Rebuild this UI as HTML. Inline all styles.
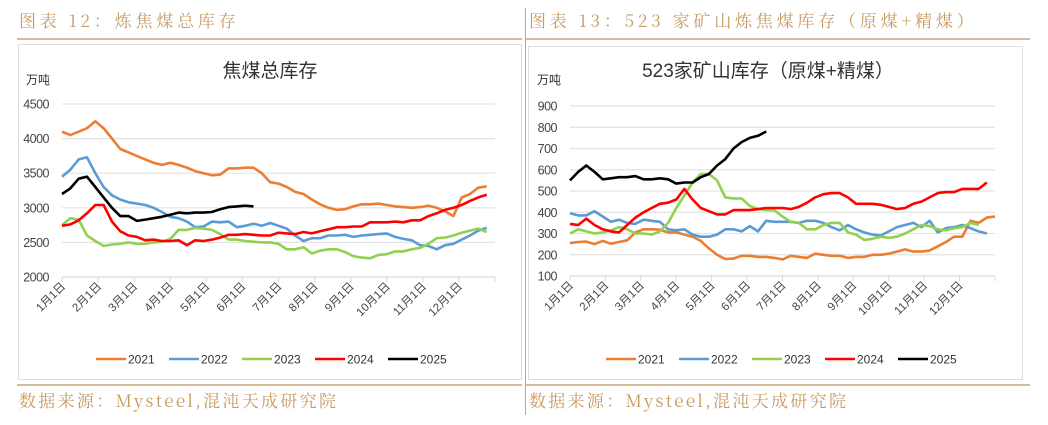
<!DOCTYPE html>
<html><head><meta charset="utf-8"><style>
body{margin:0;background:#fff;width:1048px;height:420px;overflow:hidden}
svg{font-family:"Liberation Sans","Noto Sans CJK SC",sans-serif}
.cap{font-family:"Noto Serif CJK SC","Liberation Serif",serif;fill:#c79a63;font-size:17px;letter-spacing:3.8px}
.src{letter-spacing:2.3px}
</style></head><body>
<svg id="s" width="1048" height="420">
<text class="cap" x="19" y="27">图表 12：炼焦煤总库存</text>
<text class="cap" x="529" y="27">图表 13：523 家矿山炼焦煤库存（原煤+精煤）</text>
<line x1="17" y1="39" x2="522" y2="39" stroke="#c9a77c" stroke-width="1.5"/>
<line x1="526" y1="39" x2="1030" y2="39" stroke="#c9a77c" stroke-width="1.5"/>
<line x1="525.5" y1="8" x2="525.5" y2="415" stroke="#c9a77c" stroke-width="1"/>
<rect x="18.5" y="44.5" width="503" height="335" fill="none" stroke="#ddd"/>
<rect x="528.5" y="46.5" width="494" height="333" fill="none" stroke="#ddd"/>
<line x1="17" y1="385" x2="522" y2="385" stroke="#c9a77c" stroke-width="1.5"/>
<line x1="526" y1="385" x2="1030" y2="385" stroke="#c9a77c" stroke-width="1.5"/>
<text class="cap src" x="19" y="407">数据来源：Mysteel,混沌天成研究院</text>
<text class="cap src" x="529" y="407">数据来源：Mysteel,混沌天成研究院</text>
</svg>
<script>
const years=["2021","2022","2023","2024","2025"];
const colors=["#ed7d31","#5b9bd5","#92d050","#ff0000","#000000"];
const months=["1月1日","2月1日","3月1日","4月1日","5月1日","6月1日","7月1日","8月1日","9月1日","10月1日","11月1日","12月1日"];
const leftTicks=[2000,2500,3000,3500,4000,4500];
const rightTicks=[100,200,300,400,500,600,700,800,900];
const L2021=[4100,4050,4100,4150,4250,4150,4000,3850,3800,3750,3700,3650,3620,3650,3620,3580,3530,3500,3470,3480,3570,3570,3580,3580,3500,3370,3350,3300,3230,3200,3120,3050,3000,2970,2980,3020,3050,3050,3060,3040,3020,3010,3000,3010,3030,3000,2950,2880,3150,3200,3290,3310];
const L2022=[3450,3550,3700,3730,3500,3300,3180,3120,3080,3060,3040,3000,2940,2870,2850,2800,2720,2730,2800,2790,2800,2720,2740,2770,2740,2780,2740,2700,2600,2520,2560,2560,2600,2600,2610,2580,2600,2610,2620,2630,2580,2550,2530,2460,2450,2400,2460,2480,2540,2600,2670,2710];
const L2023=[2750,2850,2830,2600,2520,2450,2470,2480,2500,2480,2480,2500,2510,2550,2680,2680,2710,2700,2680,2620,2540,2540,2520,2510,2500,2500,2480,2400,2400,2430,2340,2380,2400,2400,2360,2300,2280,2270,2320,2330,2370,2370,2400,2420,2480,2560,2570,2600,2640,2670,2700,2650];
const L2024=[2740,2760,2820,2920,3040,3040,2800,2660,2600,2580,2530,2540,2520,2520,2530,2460,2530,2520,2540,2570,2610,2610,2620,2610,2600,2600,2640,2630,2620,2650,2630,2660,2690,2720,2720,2730,2730,2790,2790,2790,2800,2790,2820,2820,2880,2920,2970,3000,3040,3100,3150,3190];
const L2025=[3200,3280,3420,3450,3300,3150,3000,2880,2880,2810,2830,2850,2870,2900,2930,2920,2930,2930,2940,2980,3010,3020,3030,3020];
const R2021=[255,260,262,250,265,252,260,268,305,320,320,318,305,305,295,285,265,230,200,180,182,195,195,190,190,185,178,195,190,185,205,200,195,195,185,190,190,200,200,205,215,225,215,215,220,240,260,285,285,360,350,375,380];
const R2022=[395,385,385,405,380,355,365,350,345,365,360,355,320,315,320,295,285,285,295,320,320,310,335,310,360,355,355,355,350,360,360,350,330,315,340,320,305,295,290,310,330,340,350,330,360,305,325,330,340,325,310,300];
const R2023=[300,320,310,300,305,315,330,320,300,300,295,310,350,420,480,540,580,580,550,470,465,465,430,415,410,410,380,355,350,320,320,340,350,350,305,295,270,275,285,280,285,300,320,340,335,320,315,325,330,350,340];
const R2024=[345,340,370,340,320,310,305,340,375,400,420,440,445,460,510,460,420,405,390,390,410,410,410,415,420,420,420,415,425,445,470,485,490,490,470,440,440,440,435,425,415,420,440,450,470,490,495,495,510,510,510,540];
const R2025=[550,590,620,590,555,560,565,565,570,555,555,560,555,535,540,540,565,580,620,650,700,730,750,760,780];
const leftSeries=[L2021,L2022,L2023,L2024,L2025];
const rightSeries=[R2021,R2022,R2023,R2024,R2025];
const svg=document.getElementById('s');const NS="http://www.w3.org/2000/svg";
function mk(tag,attrs,parent){const e=document.createElementNS(NS,tag);for(const k in attrs)e.setAttribute(k,attrs[k]);(parent||svg).appendChild(e);return e;}
function chart(p,title,ticks,series,x0,x1,yTop,yBot,titleX,unitX,legendX){
 const g=mk('g',{});
 
 
 const mn=ticks[0],mx=ticks[ticks.length-1];
 const ys=v=>yBot-(v-mn)/(mx-mn)*(yBot-yTop);
 const step=(x1-x0)/52;const xs=i=>x0+i*step;
 const t=mk('text',{x:titleX,y:77,'font-size':19,fill:'#333','text-anchor':'middle'},g);t.textContent=title;
 
 
 const u=mk('text',{x:unitX,y:84,'font-size':12,fill:'#333'},g);u.textContent='万吨';
 
 
 ticks.forEach(v=>{const y=ys(v);
  const gl=mk('line',{x1:x0,x2:x1,y1:y,y2:y,stroke:v===mn?'#d9d9d9':'#e3e3e3','stroke-width':1.2},g);
  
  
  const tl=mk('text',{x:x0-13,y:y+4.5,'font-size':12.5,fill:'#444','text-anchor':'end','letter-spacing':'-0.5'},g);tl.textContent=v;
  
  });
 const mw=(x1-x0)/12;
 for(let m=0;m<=12;m++){const x=x0+m*mw;const tk=mk('line',{x1:x,x2:x,y1:yBot,y2:yBot+5,stroke:'#d9d9d9'},g);
  
  }
 months.forEach((m,i)=>{const x=x0+i*mw+4;const y=yBot+10;
  const tl=mk('text',{x:x,y:y,'font-size':11.5,fill:'#444','text-anchor':'end',transform:`rotate(-45 ${x} ${y})`},g);tl.textContent=m;
  
  });
 series.forEach((arr,k)=>{const d=arr.map((v,i)=>(i?'L':'M')+xs(i).toFixed(1)+' '+ys(v).toFixed(1)).join(' ');
  const pa=mk('path',{d:d,fill:'none',stroke:colors[k],'stroke-width':2.6,'stroke-linejoin':'round'},g);
  
  });
 years.forEach((yr,k)=>{const lx=legendX+k*73;
  const le=mk('g',{},g);
  
  
  mk('line',{x1:lx,x2:lx+30,y1:359,y2:359,stroke:colors[k],'stroke-width':2.6},le);
  const lt=mk('text',{x:lx+32,y:363.5,'font-size':12,fill:'#333'},le);lt.textContent=yr;});
}
chart('left','焦煤总库存',leftTicks,leftSeries,62,495,104,277,270,26,96);
chart('right','523家矿山库存（原煤+精煤）',rightTicks,rightSeries,570,995,106,276,768,537,606);
</script>
</body></html>
